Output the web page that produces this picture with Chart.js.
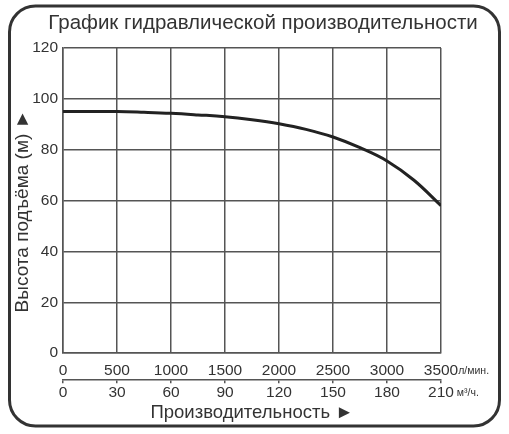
<!DOCTYPE html>
<html>
<head>
<meta charset="utf-8">
<style>
  html, body { margin: 0; padding: 0; background: #fff; }
  #wrap { width: 509px; height: 434px; position: relative; }
</style>
<script src="https://cdn.jsdelivr.net/npm/chart.js@4.4.1/dist/chart.umd.min.js"></script>
</head>
<body>
<div id="wrap"><canvas id="pumpChart" width="509" height="434"></canvas></div>
<script>
// flow in l/min and head in m
const flowLpm = [0, 250, 500, 750, 1000, 1250, 1500, 1750, 2000, 2250, 2500, 2750, 3000, 3250, 3500];
const headM = [95, 95, 95, 94.7, 94.3, 93.7, 93, 91.8, 90.2, 88, 85, 80.8, 75.6, 68, 58];

const chartTitle = 'График гидравлической производительности';
const yTitle = 'Высота подъёма (м) ►';
const xTitle = 'Производительность ►';
const unitLpm = 'л/мин.';
const unitM3h = ' м³/ч.';

const FONT = "'Liberation Sans', Arial, sans-serif";
const GRID = '#555';
const TEXT = '#333';

const framePlugin = {
    id: 'frame',
    beforeDraw(chart) {
        const { ctx } = chart;
        ctx.save();
        ctx.strokeStyle = '#333';
        ctx.lineWidth = 3;
        ctx.beginPath();
        ctx.roundRect(9.5, 6, 490, 420, 26);
        ctx.stroke();
        ctx.restore();
    }
};

// titles drawn by hand so they can sit where the reference puts them
const titlesPlugin = {
    id: 'titles',
    afterDraw(chart) {
        const { ctx } = chart;
        ctx.save();
        ctx.fillStyle = TEXT;
        ctx.textAlign = 'center';
        ctx.textBaseline = 'middle';
        ctx.font = `20.5px ${FONT}`;
        ctx.fillText(chartTitle, 263, 23);
        ctx.translate(23, 211);
        ctx.rotate(-Math.PI / 2);
        ctx.font = `19px ${FONT}`;
        ctx.fillText(yTitle, 0, 0);
        ctx.restore();
    }
};

const unitsPlugin = {
    id: 'units',
    afterDraw(chart) {
        const { ctx } = chart;
        const drawUnit = (scale, value, label, unit) => {
            const item = scale._labelItems && scale._labelItems.find(it => it.label === label);
            if (!item) return;
            const x = scale.getPixelForValue(value);
            ctx.save();
            ctx.font = `15.5px ${FONT}`;
            const w = ctx.measureText(label).width;
            ctx.font = `10.5px ${FONT}`;
            ctx.fillStyle = TEXT;
            ctx.textAlign = 'left';
            ctx.textBaseline = item.options.textBaseline;
            ctx.fillText(unit, x + w / 2, item.options.translation[1] + item.textOffset + 1);
            ctx.restore();
        };
        drawUnit(chart.scales.x, 3500, '3500', unitLpm);
        drawUnit(chart.scales.x2, 210, '210', unitM3h);
    }
};

new Chart(document.getElementById('pumpChart'), {
    type: 'line',
    data: {
        datasets: [{
            data: flowLpm.map((f, i) => ({ x: f, y: headM[i] })),
            borderColor: '#222',
            borderWidth: 3,
            pointRadius: 0,
            tension: 0.4,
            fill: false
        }]
    },
    options: {
        responsive: false,
        animation: false,
        layout: { padding: { left: 12, right: 68, top: 48, bottom: 8 } },
        plugins: {
            legend: { display: false },
            tooltip: { enabled: false },
            title: { display: false }
        },
        scales: {
            x: {
                type: 'linear',
                position: 'bottom',
                weight: 0,
                min: 0,
                max: 3500,
                border: { display: true, color: GRID, width: 1.5 },
                grid: { color: GRID, lineWidth: 1.5, drawTicks: false },
                ticks: {
                    stepSize: 500,
                    color: TEXT,
                    padding: 8,
                    maxRotation: 0,
                    font: { family: FONT, size: 15.5 },
                    callback: v => String(v)
                },
                afterFit(scale) { scale.height = 27; }
            },
            x2: {
                type: 'linear',
                position: 'bottom',
                weight: 1,
                min: 0,
                max: 210,
                border: { display: true, color: GRID, width: 1.5 },
                grid: { color: GRID, lineWidth: 1.5, drawOnChartArea: false, drawTicks: true, tickLength: 3 },
                ticks: {
                    stepSize: 30,
                    color: TEXT,
                    padding: 0,
                    maxRotation: 0,
                    font: { family: FONT, size: 15.5 },
                    callback: v => String(v)
                },
                title: {
                    display: true,
                    text: xTitle,
                    color: TEXT,
                    font: { family: FONT, size: 18.5 },
                    padding: { top: 0, bottom: 2 }
                }
            },
            y: {
                min: 0,
                max: 120,
                border: { display: true, color: GRID, width: 1.5 },
                grid: { color: GRID, lineWidth: 1.5, drawTicks: false },
                ticks: {
                    stepSize: 20,
                    color: TEXT,
                    padding: 5,
                    font: { family: FONT, size: 15.5 }
                },
                afterFit(scale) { scale.width = 51; }
            }
        }
    },
    plugins: [framePlugin, titlesPlugin, unitsPlugin]
});
</script>
</body>
</html>
